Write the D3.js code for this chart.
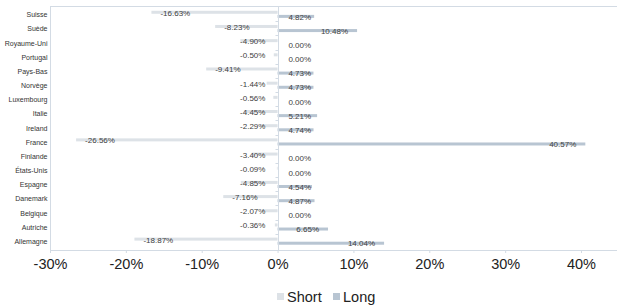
<!DOCTYPE html>
<html>
<head>
<meta charset="utf-8">
<script src="https://cdn.jsdelivr.net/npm/d3@7"></script>
<style>
  body { margin: 0; background: #fff; }
  svg { display: block; font-family: "Liberation Sans", Arial, sans-serif; }
</style>
</head>
<body>
<div id="chart"></div>
<script>
// categories, top to bottom
var categories = ['Suisse', 'Suède', 'Royaume-Uni', 'Portugal', 'Pays-Bas', 'Norvège',
                  'Luxembourg', 'Italie', 'Ireland', 'France', 'Finlande', 'États-Unis',
                  'Espagne', 'Danemark', 'Belgique', 'Autriche', 'Allemagne'];
var shortValues = [-16.63, -8.23, -4.90, -0.50, -9.41, -1.44, -0.56, -4.45, -2.29, -26.56,
                   -3.40, -0.09, -4.85, -7.16, -2.07, -0.36, -18.87];
var longValues  = [4.82, 10.48, 0.00, 0.00, 4.73, 4.73, 0.00, 5.21, 4.74, 40.57,
                   0.00, 0.00, 4.54, 4.87, 0.00, 6.65, 14.04];
var xTicks = [-30, -20, -10, 0, 10, 20, 30, 40];
var seriesNames = ['Short', 'Long'];

plot_bars("#chart", 617, 307);

// Horizontal bar chart, short positions to the left of zero, long to the right
function plot_bars(htmlObjectId, width, height) {

    var plot = {left: 50, right: 617, top: 6, bottom: 250};
    var shortColor = "#dde2e7",
        longColor = "#b8c5d2",
        lineColor = "#d3dbe4";

    var x = d3.scaleLinear()
                .domain([-30, 40])
                .range([plot.left, 581]);

    var y = d3.scaleBand()
                .domain(categories)
                .range([7, 248]);

    var canvas = d3.select(htmlObjectId)
                    .append("svg")
                    .attr("width", width)
                    .attr("height", height);

    // plot border: top and left
    canvas.append("line")
        .attr("x1", plot.left).attr("x2", plot.right)
        .attr("y1", plot.top + 0.5).attr("y2", plot.top + 0.5)
        .attr("stroke", lineColor);
    canvas.append("line")
        .attr("x1", plot.left + 0.5).attr("x2", plot.left + 0.5)
        .attr("y1", plot.top).attr("y2", plot.bottom)
        .attr("stroke", lineColor);

    // bottom value axis
    var xaxis = d3.axisBottom(x)
                .tickValues(xTicks)
                .tickSize(3)
                .tickFormat(function(d) { return d + "%"; });

    var gx = canvas.append("g")
        .attr("transform", "translate(0," + plot.bottom + ")")
        .call(xaxis);
    gx.select(".domain").remove();
    gx.append("line")
        .attr("x1", plot.left).attr("x2", plot.right)
        .attr("y1", 0.5).attr("y2", 0.5)
        .attr("stroke", lineColor);
    gx.selectAll(".tick line").attr("stroke", lineColor);
    gx.selectAll(".tick text")
        .attr("y", 9)
        .attr("font-size", "14.5px")
        .attr("font-family", "Liberation Sans, Arial, sans-serif")
        .attr("fill", "#222");

    var x0 = Math.round(x(0)) + 0.5;

    var rows = categories.map(function(c, i) {
        return {cat: c, s: shortValues[i], l: longValues[i]};
    });

    // bars
    canvas.selectAll("rect.short")
        .data(rows)
      .enter().append("rect")
        .attr("class", "short")
        .attr("x", function(d) { return x(d.s); })
        .attr("width", function(d) { return x(0) - x(d.s); })
        .attr("y", function(d) { return y(d.cat) + y.bandwidth() / 2 - 3.3; })
        .attr("height", 3)
        .attr("fill", shortColor);

    canvas.selectAll("rect.long")
        .data(rows)
      .enter().append("rect")
        .attr("class", "long")
        .attr("x", x(0))
        .attr("width", function(d) { return x(d.l) - x(0); })
        .attr("y", function(d) { return y(d.cat) + y.bandwidth() / 2 + 0.8; })
        .attr("height", 3)
        .attr("fill", longColor);

    // category axis on the zero line
    canvas.append("line")
        .attr("x1", x0).attr("x2", x0)
        .attr("y1", plot.top).attr("y2", plot.bottom)
        .attr("stroke", lineColor);
    canvas.selectAll("line.ytick")
        .data(categories.slice(1))
      .enter().append("line")
        .attr("class", "ytick")
        .attr("x1", x0 - 3).attr("x2", x0)
        .attr("y1", function(d) { return Math.round(y(d)) + 0.5; })
        .attr("y2", function(d) { return Math.round(y(d)) + 0.5; })
        .attr("stroke", lineColor);

    // category labels
    canvas.selectAll("text.cat")
        .data(categories)
      .enter().append("text")
        .attr("class", "cat")
        .attr("x", 47.5)
        .attr("y", function(d) { return y(d) + y.bandwidth() / 2 + 0.6; })
        .attr("dominant-baseline", "central")
        .attr("text-anchor", "end")
        .attr("font-size", "7px")
        .attr("fill", "#333")
        .text(function(d) { return d; });

    // data labels
    canvas.selectAll("text.slabel")
        .data(rows)
      .enter().append("text")
        .attr("class", "slabel")
        .attr("x", function(d) { return Math.min(x(0) - 37.5, x(d.s) + 9); })
        .attr("y", function(d) { return y(d.cat) + y.bandwidth() / 2 - 0.8; })
        .attr("dominant-baseline", "central")
        .attr("font-size", "8px")
        .attr("fill", "#404040")
        .text(function(d) { return d.s.toFixed(2) + "%"; });

    canvas.selectAll("text.llabel")
        .data(rows)
      .enter().append("text")
        .attr("class", "llabel")
        .attr("x", function(d) { return Math.max(x(0) + 33.5, x(d.l) - 9); })
        .attr("y", function(d) { return y(d.cat) + y.bandwidth() / 2 + 3; })
        .attr("dominant-baseline", "central")
        .attr("text-anchor", "end")
        .attr("font-size", "8px")
        .attr("fill", "#404040")
        .text(function(d) { return d.l.toFixed(2) + "%"; });

    // legend
    var legendItems = [
        {name: seriesNames[0], color: shortColor, x: 277},
        {name: seriesNames[1], color: longColor, x: 333}
    ];
    var lg = canvas.selectAll("g.legend")
        .data(legendItems)
      .enter().append("g")
        .attr("class", "legend")
        .attr("transform", function(d) { return "translate(" + d.x + ",293)"; });
    lg.append("rect")
        .attr("width", 7).attr("height", 7)
        .attr("fill", function(d) { return d.color; });
    lg.append("text")
        .attr("x", 10)
        .attr("y", 3.8)
        .attr("dominant-baseline", "central")
        .attr("font-size", "14.5px")
        .attr("fill", "#222")
        .text(function(d) { return d.name; });
}
</script>
</body>
</html>
